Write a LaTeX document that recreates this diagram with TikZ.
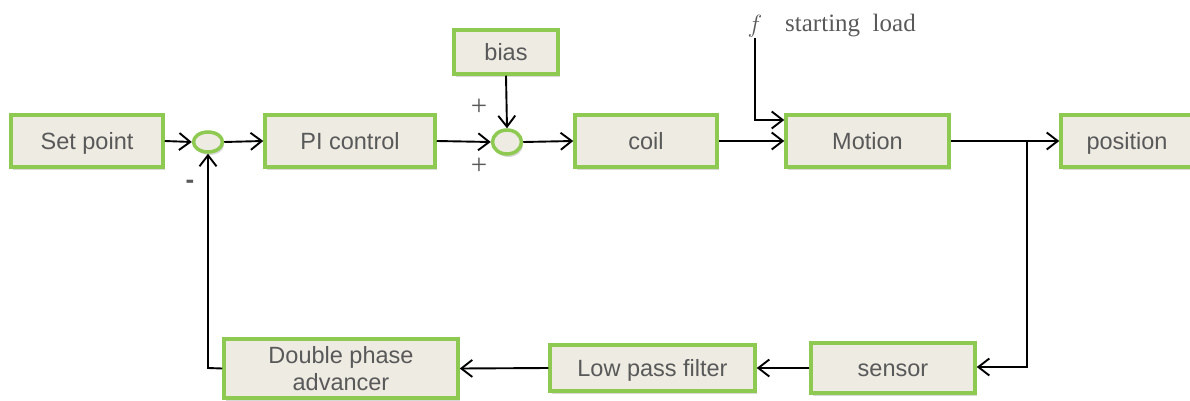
\documentclass[tikz,border=0pt]{standalone}
\usepackage{fontspec}
\setmainfont{Liberation Serif}
\setsansfont{Liberation Sans}
\usetikzlibrary{arrows.meta,shadows,shapes.geometric}
\definecolor{boxfill}{RGB}{237,235,226}
\definecolor{boxline}{RGB}{142,202,82}
\definecolor{labelgray}{RGB}{89,89,89}
\begin{document}
\begin{tikzpicture}[x=1pt,y=-1pt,
  blockbox/.style={draw=boxline, line width=3.5pt, fill=boxfill, text=labelgray,
    font=\sffamily\fontsize{23.5}{27}\selectfont, inner sep=0pt, align=center,
    drop shadow={opacity=0.3, shadow xshift=1.5pt, shadow yshift=-3pt}},
  oneline/.style={text height=17pt, text depth=0pt},
  sumnode/.style={ellipse, draw=boxline, line width=3.5pt, fill=boxfill, inner sep=0pt,
    drop shadow={opacity=0.3, shadow xshift=1.5pt, shadow yshift=-3pt}},
  link/.style={line width=1.9pt, -{Straight Barb[length=11pt,width=17pt,line width=1.9pt]}},
  signlabel/.style={text=labelgray, inner sep=0pt}
]
\useasboundingbox (0,0) rectangle (1190,401);

% forward path
\node[blockbox, oneline, minimum width=152pt, minimum height=52pt] (sp) at (87,141) {Set point};
\node[sumnode, minimum width=29pt, minimum height=20pt] (s1) at (208,142) {};
\node[blockbox, oneline, minimum width=170pt, minimum height=52pt] (pi) at (350,141) {PI control};
\node[sumnode, minimum width=29pt, minimum height=24pt] (s2) at (507,142) {};
\node[blockbox, oneline, minimum width=104pt, minimum height=44pt] (bias) at (506,52) {bias};
\node[blockbox, oneline, minimum width=142pt, minimum height=52pt] (coil) at (646,141) {coil};
\node[blockbox, oneline, minimum width=163pt, minimum height=52pt] (motion) at (867.5,141) {Motion};
\node[blockbox, oneline, minimum width=132pt, minimum height=52pt] (pos) at (1127,141) {position};

% feedback path
\node[blockbox, oneline, minimum width=164pt, minimum height=50pt] (sensor) at (893,368) {sensor};
\node[blockbox, oneline, minimum width=205pt, minimum height=46pt] (lpf) at (652.5,368) {Low pass filter};
\node[blockbox, minimum width=234pt, minimum height=59pt] (dpa) at (341,368.5) {Double phase\\advancer};

% load input
\node[inner sep=0pt, text=labelgray, font=\fontsize{26}{30}\selectfont] (f) at (755,26) {$f$};
\node[inner sep=0pt, anchor=west, text=labelgray, font=\fontsize{25}{30}\selectfont] (load) at (785,26) {starting\hspace{0.5em}load};

% sign labels
\node[signlabel, font=\fontsize{29}{32}\selectfont] (pa) at (479,107) {+};
\node[signlabel, font=\fontsize{29}{32}\selectfont] (pb) at (479,166) {+};
\node[signlabel, font=\sffamily\bfseries\fontsize{26}{28}\selectfont] (mn) at (190,184) {-};

\coordinate (fcorner) at (755,120);
\coordinate (branch) at (1027,141);
\coordinate (bcorner) at (1027,367);
\coordinate (fbcorner) at (208,368);

% connectors
\draw[link] (sp.east) -- (s1.west);
\draw[link] (s1.east) -- (pi.west);
\draw[link] (pi.east) -- (s2.west);
\draw[link] (bias.south) -- (s2.north);
\draw[link] (s2.east) -- (coil.west);
\draw[link] (coil.east) -- (motion.west);
\draw[link] (755,38) -- (fcorner) -- (fcorner -| motion.west);
\draw[link] (motion.east) -- (pos.west);
\draw[link] (branch) -- (bcorner) -- (sensor.east |- bcorner);
\draw[link] (sensor.west) -- (lpf.east);
\draw[link] (lpf.west) -- (dpa.east);
\draw[link] (dpa.west) -- (fbcorner) -- (s1.south);
\end{tikzpicture}
\end{document}
